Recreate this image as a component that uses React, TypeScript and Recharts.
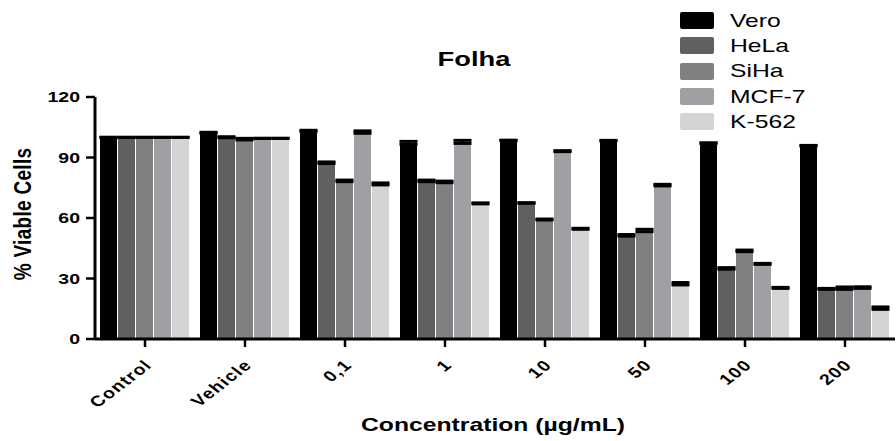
import React from 'react';
import { BarChart, Bar, XAxis, YAxis, ErrorBar } from 'recharts';

const categories = ['Control', 'Vehicle', '0,1', '1', '10', '50', '100', '200'];
const seriesNames = ['Vero', 'HeLa', 'SiHa', 'MCF-7', 'K-562'];
const vero = [100, 102, 103, 96.5, 98.3, 98.2, 97, 95.7];
const hela = [100, 99.8, 87, 78, 67.3, 51, 34.6, 24.6];
const siha = [100, 98.7, 78, 77.5, 59, 53.2, 43.3, 24.6];
const mcf7 = [100, 99.5, 102, 97, 92.9, 75.9, 37, 25.1];
const k562 = [100, 99.5, 76.4, 67, 54.4, 26.8, 25.1, 14.7];
const veroErr = [0, 0.5, 0.5, 1.5, 0.3, 0.3, 0.3, 0.3];
const helaErr = [0, 0.5, 0.8, 0.8, 0.3, 0.8, 0.8, 0.5];
const sihaErr = [0, 0.8, 0.8, 0.8, 0.5, 1.2, 0.8, 1.2];
const mcf7Err = [0, 0, 1.2, 1.5, 0.5, 0.8, 0.5, 0.8];
const k562Err = [0, 0, 1, 0.5, 0.5, 1.2, 0.5, 1.2];
const yTicks = [0, 30, 60, 90, 120];

const colors = ['#000000', '#606060', '#808080', '#a0a0a4', '#d4d4d4'];
const keys = ['vero', 'hela', 'siha', 'mcf7', 'k562'];
const values = [vero, hela, siha, mcf7, k562];
const errs = [veroErr, helaErr, sihaErr, mcf7Err, k562Err];

const data = categories.map((c, i) => {
  const row: any = { name: c };
  keys.forEach((k, j) => {
    row[k] = values[j][i];
    row[k + 'Err'] = [0, errs[j][i]];
  });
  return row;
});

const FONT = '"Liberation Sans", Arial, sans-serif';
const SX = 1.3;

if (typeof document !== 'undefined') {
  document.body.style.margin = '0';
}

const XTick = (props: any) => {
  const { x, y, payload } = props;
  return (
    <g transform={`translate(${x + 8},${y + 17}) scale(${SX},1) rotate(-45)`}>
      <text
        textAnchor="end"
        fontFamily={FONT}
        fontWeight="bold"
        fontSize={15}
        letterSpacing={1}
        fill="#000"
      >
        {payload.value}
      </text>
    </g>
  );
};

const YTick = (props: any) => {
  const { x, y, payload } = props;
  return (
    <g transform={`translate(${x - 4},${y}) scale(${SX},1)`}>
      <text
        textAnchor="end"
        dy="0.36em"
        fontFamily={FONT}
        fontWeight="bold"
        fontSize={15}
        fill="#000"
      >
        {payload.value}
      </text>
    </g>
  );
};

const legendStyle: React.CSSProperties = {
  position: 'absolute',
  left: 680,
  top: 8,
  fontFamily: FONT,
  fontSize: 19,
};

export default function App() {
  return (
    <div style={{ position: 'relative', width: 896, height: 441, background: '#fff', overflow: 'hidden' }}>
      <BarChart
        width={896}
        height={441}
        data={data}
        margin={{ top: 97, right: 1, left: 0, bottom: 32 }}
        barCategoryGap="5%"
        barGap={1}
      >
        <XAxis
          dataKey="name"
          tick={<XTick />}
          tickLine={{ stroke: '#000', strokeWidth: 2.5 }}
          tickSize={8}
          axisLine={{ stroke: '#000', strokeWidth: 3 }}
          height={70}
          interval={0}
        />
        <YAxis
          domain={[0, 120]}
          ticks={yTicks}
          width={95}
          tick={<YTick />}
          tickLine={{ stroke: '#000', strokeWidth: 2.5 }}
          tickSize={9}
          axisLine={{ stroke: '#000', strokeWidth: 3 }}
        />
        {keys.map((k, j) => (
          <Bar
            key={k}
            dataKey={k}
            name={seriesNames[j]}
            fill={colors[j]}
            isAnimationActive={false}
            radius={[2, 2, 0, 0]}
          >
            <ErrorBar dataKey={k + 'Err'} width={9} stroke="#000" strokeWidth={3} direction="y" />
          </Bar>
        ))}
      </BarChart>

      <div
        style={{
          position: 'absolute',
          left: 474,
          top: 47,
          transform: `translateX(-50%) scaleX(${SX})`,
          fontFamily: FONT,
          fontWeight: 'bold',
          fontSize: 21,
          whiteSpace: 'nowrap',
          lineHeight: '24px',
        }}
      >
        Folha
      </div>

      <div
        style={{
          position: 'absolute',
          left: 23,
          top: 214,
          transform: `translate(-50%,-50%) scaleX(${SX}) rotate(-90deg)`,
          fontFamily: FONT,
          fontWeight: 'bold',
          fontSize: 19,
          letterSpacing: 0.3,
          whiteSpace: 'nowrap',
          lineHeight: '22px',
        }}
      >
        % Viable Cells
      </div>

      <div
        style={{
          position: 'absolute',
          left: 493,
          top: 414,
          transform: `translateX(-50%) scaleX(${SX})`,
          fontFamily: FONT,
          fontWeight: 'bold',
          fontSize: 19,
          whiteSpace: 'nowrap',
          lineHeight: '22px',
        }}
      >
        Concentration (µg/mL)
      </div>

      <div style={legendStyle}>
        {seriesNames.map((n, i) => (
          <div key={n} style={{ display: 'flex', alignItems: 'center', height: 25.3 }}>
            <div
              style={{
                width: 34,
                height: 17,
                background: colors[i],
                borderRadius: 2,
                marginRight: 16,
              }}
            />
            <span
              style={{
                display: 'inline-block',
                transform: `scaleX(${SX})`,
                transformOrigin: 'left center',
                color: '#000',
                lineHeight: '20px',
              }}
            >
              {n}
            </span>
          </div>
        ))}
      </div>
    </div>
  );
}
